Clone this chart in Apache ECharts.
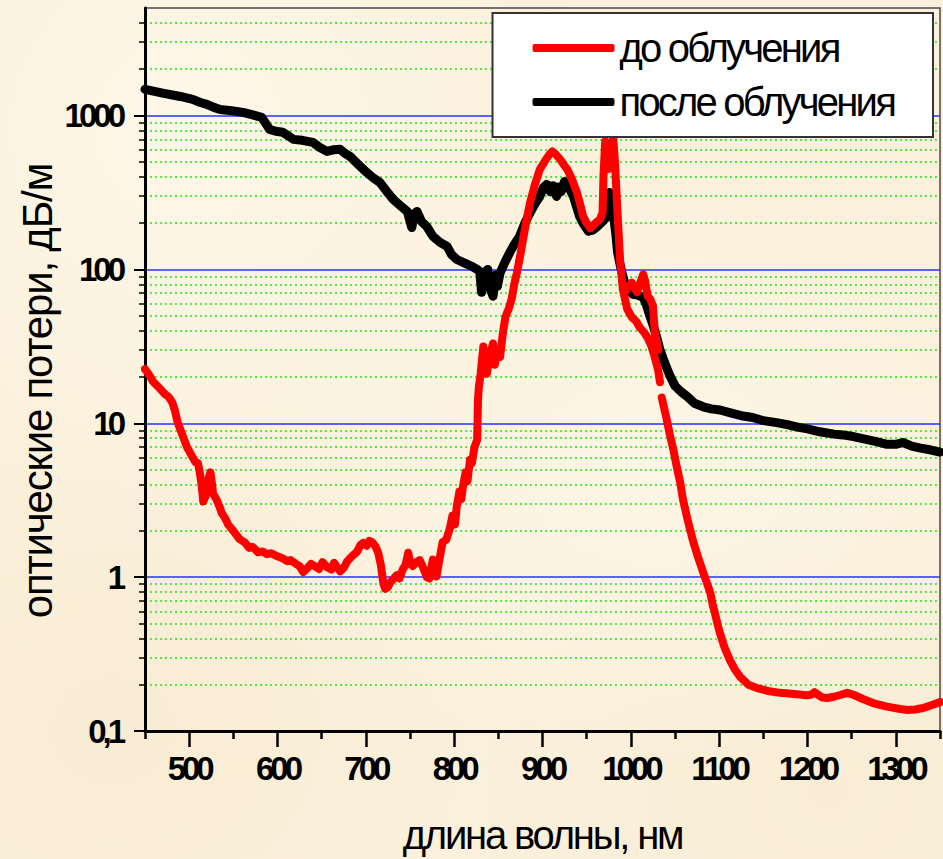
<!DOCTYPE html>
<html>
<head>
<meta charset="utf-8">
<script src="https://cdn.jsdelivr.net/npm/echarts@6/dist/echarts.min.js"></script>
<style>
  html, body { margin: 0; padding: 0; }
  body {
    width: 943px; height: 859px; overflow: hidden;
    background-color: #fbf0db;
    background-image:
      radial-gradient(ellipse at 20% 15%, rgba(255,252,240,0.6), rgba(255,252,240,0) 40%),
      radial-gradient(ellipse at 70% 55%, rgba(255,250,238,0.55), rgba(255,250,238,0) 45%),
      radial-gradient(ellipse at 12% 85%, rgba(246,232,204,0.5), rgba(246,232,204,0) 30%),
      radial-gradient(ellipse at 88% 92%, rgba(246,233,206,0.5), rgba(246,233,206,0) 30%);
  }
  #chart { width: 943px; height: 859px; }
</style>
</head>
<body>
<div id="chart"></div>
<script>
// Optical loss spectra of the fibre before and after irradiation
const FONT = "'Liberation Sans', Arial, sans-serif";
const X_TITLE = 'длина волны, нм';
const Y_TITLE = 'оптические потери, дБ/м';
const NAME_BEFORE = 'до облучения';
const NAME_AFTER = 'после облучения';

// "до облучения" (before irradiation); null marks a break in the trace
const redNm = [450,455,459,466,473,477,481,484,487,492,498,502,507,510,512,514,516,519,521,524,526,527,531,534,537,541,544,550,557,563,568,572,578,583,588,593,599,605,611,615,620,625,629,634,638,642,647,651,656,661,664,668,671,675,679,684,690,694,697,701,704,707,711,714,717,720,722,725,728,731,735,738,742,745,748,750,753,757,761,765,769,772,774,776,778,780,784,787,791,795,798,801,803,806,808,810,813,815,818,820,823,826,827,828,830,833,835,837,840,844,846,848,852,855,858,862,865,868,871,875,878,882,886,891,897,904,908,911,915,920,924,928,933,939,943,946,950,954,958,962,965,968,969,971,973,975,977,979,980,982,984,986,988,991,996,1001,1006,1010,1015,1019,1023,1027,1031,1033,
  null,
  1035,1040,1044,1048,1052,1056,1059,1064,1070,1076,1082,1086,1090,1093,1095,1098,1101,1106,1112,1118,1124,1133,1143,1155,1169,1185,1199,1204,1208,1212,1217,1222,1230,1238,1245,1252,1262,1274,1290,1305,1313,1322,1331,1340,1350,
  null,
  991,993,997,1001,1004,1007,1010,1014,1016,1019,1022,1025,1027,1031];
const redLoss = [22.5,20.5,18.7,17,15.4,14.8,13.6,12,10.1,8.5,6.9,6.3,5.6,5.5,4.8,4.0,3.1,3.4,4.2,4.8,4.0,3.5,3.2,2.9,2.6,2.4,2.2,2.0,1.77,1.68,1.55,1.57,1.45,1.47,1.41,1.43,1.37,1.33,1.27,1.29,1.23,1.18,1.08,1.15,1.22,1.18,1.13,1.25,1.16,1.12,1.24,1.15,1.09,1.15,1.27,1.36,1.46,1.62,1.67,1.60,1.72,1.69,1.58,1.44,1.2,0.9,0.84,0.86,0.93,0.97,1.03,0.98,1.13,1.2,1.44,1.25,1.18,1.25,1.29,1.15,1.0,0.98,1.14,1.30,1.12,1.01,1.37,1.69,1.75,2.06,2.5,2.2,2.9,3.6,3.2,3.9,4.8,4.2,5.8,5.5,7.0,7.8,14.3,17.3,21,31.5,26,21,27,33,24,28,27,38,49,56,64,80,95,125,157,210,272,350,447,520,560,585,560,519,480,447,390,316,260,221,200,185,195,205,211,234,400,680,600,450,468,650,720,500,298,180,111,74,55,49,46,42,39,36,32,27,22,18.5,
  null,
  14.7,11,8.5,6.8,5.2,4.1,3.2,2.4,1.75,1.35,1.07,0.92,0.79,0.65,0.59,0.5,0.43,0.35,0.29,0.25,0.224,0.20,0.19,0.182,0.177,0.174,0.171,0.172,0.179,0.172,0.165,0.164,0.167,0.172,0.177,0.172,0.162,0.152,0.144,0.139,0.137,0.138,0.141,0.147,0.154,
  null,
  74,71,77,82,76,71,80,93,85,67,64,58,40,30];

// "после облучения" (after irradiation)
const blackNm = [450,470,490,504,512,520,528,535,548,561,572,582,586,591,598,606,612,618,628,640,648,656,664,671,676,682,690,701,708,716,724,731,739,747,752,755,758,763,769,776,784,792,797,803,812,821,826,829,831,834,838,841,844,847,849,852,857,863,868,874,880,886,892,897,901,905,909,912,916,918,921,925,930,935,942,947,952,957,962,968,973,976,978,980,983,985,989,993,997,1002,1008,1014,1018,1022,1026,1030,1033,1038,1044,1050,1057,1064,1072,1082,1091,1101,1115,1125,1138,1150,1165,1177,1190,1200,1214,1230,1240,1252,1265,1278,1290,1300,1308,1318,1328,1340,1350];
const blackLoss = [1480,1400,1330,1273,1220,1183,1130,1096,1075,1049,1010,973,900,813,790,778,740,700,690,669,620,585,600,603,570,543,490,427,395,367,320,285,260,238,187,230,238,205,190,164,150,141,125,116,110,104,100,97,71,95,100,75,67,92,78,95,110,129,145,164,200,234,270,298,340,357,320,350,298,343,320,373,340,298,221,195,177,180,190,205,221,316,290,234,170,129,100,82,75,69,68,66,58,49,42,35,30,25,20.5,17.5,16,14.9,13.5,12.8,12.4,12.2,11.6,11.2,10.9,10.4,10.1,9.8,9.4,9.2,8.8,8.5,8.4,8.2,7.9,7.6,7.3,7.3,7.5,7.1,6.9,6.7,6.5];

// axis ticks
const xMajorTicks = [500,600,700,800,900,1000,1100,1200,1300];
const xMinorTicks = [450,550,650,750,850,950,1050,1150,1250,1350];
const yMajorTicks = [0.1,1,10,100,1000];
const yMinorTicks = [0.2,0.3,0.4,0.5,0.6,0.7,0.8,0.9,2,3,4,5,6,7,8,9,20,30,40,50,60,70,80,90,200,300,400,500,600,700,800,900,2000,3000,4000];

const pairs = (xs, ys) => xs.map((x, i) => (x === null || ys[i] === null) ? [null, null] : [x, ys[i]]);

const X_MIN = 450, X_MAX = 1350, Y_MIN = 0.1, Y_MAX = 5000;

const chart = echarts.init(document.getElementById('chart'), null, { renderer: 'svg' });

chart.setOption({
  backgroundColor: 'transparent',
  animation: false,
  grid: {
    left: 145, right: 3, top: 8, bottom: 128,
    outerBoundsMode: 'none',
    containLabel: false,
    show: true, borderColor: '#4a4a4a', borderWidth: 1.5,
    backgroundColor: 'transparent'
  },
  legend: {
    orient: 'vertical',
    right: 10, top: 13,
    backgroundColor: '#ffffff',
    borderColor: '#333333', borderWidth: 2,
    padding: [15, -3, 15, 40],
    itemWidth: 82, itemHeight: 8, itemGap: 14,
    icon: 'roundRect',
    data: [NAME_BEFORE, NAME_AFTER],
    textStyle: { fontFamily: FONT, fontSize: 40, lineHeight: 40, color: '#000' }
  },
  xAxis: [
    {
      type: 'value', min: X_MIN, max: X_MAX,
      name: X_TITLE, nameLocation: 'middle', nameGap: 84, nameMoveOverlap: false,
      nameTextStyle: { fontFamily: FONT, fontSize: 40, color: '#000' },
      axisLine: { show: true, onZero: false, lineStyle: { color: '#000', width: 3 } },
      axisTick: { show: true, customValues: xMajorTicks, length: 16, lineStyle: { color: '#000', width: 2.5 } },
      axisLabel: {
        customValues: xMajorTicks, margin: 21,
        fontFamily: FONT, fontWeight: 'bold', fontSize: 33, color: '#000',
        formatter: v => String(v)
      },
      splitLine: { show: false }
    },
    {
      type: 'value', min: X_MIN, max: X_MAX, position: 'bottom',
      axisLine: { show: false },
      axisTick: { show: true, customValues: xMinorTicks, length: 8, lineStyle: { color: '#000', width: 2.5 } },
      axisLabel: { show: false },
      splitLine: { show: false }
    }
  ],
  yAxis: [
    {
      type: 'log', logBase: 10, min: Y_MIN, max: Y_MAX, position: 'left',
      name: Y_TITLE, nameLocation: 'middle', nameGap: 87, nameMoveOverlap: false,
      nameTextStyle: { fontFamily: FONT, fontSize: 42, color: '#000', padding: [0, 43, 0, 0] },
      axisLine: { show: true, onZero: false, lineStyle: { color: '#000', width: 3 } },
      axisTick: { show: true, customValues: yMajorTicks, length: 11, lineStyle: { color: '#000', width: 2 } },
      axisLabel: {
        customValues: yMajorTicks, margin: 23,
        fontFamily: FONT, fontWeight: 'bold', fontSize: 33, color: '#000',
        formatter: v => String(v).replace('.', ',')
      },
      splitLine: { show: true, lineStyle: { color: '#2233ff', width: 1.5 } }
    },
    {
      type: 'log', logBase: 10, min: Y_MIN, max: Y_MAX, position: 'left',
      axisLine: { show: false },
      axisTick: { show: true, customValues: yMinorTicks, length: 6, lineStyle: { color: '#000', width: 1.5 } },
      axisLabel: { show: false },
      splitLine: { show: true, lineStyle: { color: '#18e818', width: 1.5, type: [2, 3] } }
    }
  ],
  series: [
    {
      name: NAME_AFTER, type: 'line', xAxisIndex: 0, yAxisIndex: 0,
      data: pairs(blackNm, blackLoss), showSymbol: false, symbol: 'none',
      connectNulls: false,
      lineStyle: { color: '#000', width: 9, cap: 'round', join: 'round' },
      itemStyle: { color: '#000' }
    },
    {
      name: NAME_BEFORE, type: 'line', xAxisIndex: 0, yAxisIndex: 0,
      data: pairs(redNm, redLoss), showSymbol: false, symbol: 'none',
      connectNulls: false,
      lineStyle: { color: '#ff0000', width: 8, cap: 'round', join: 'round' },
      itemStyle: { color: '#ff0000' }
    }
  ]
});

// tighten the tracking of the lettering
function tightenText() {
  document.querySelectorAll('#chart svg text').forEach(t => {
    const s = t.textContent;
    let ls = null;
    if (/^[\d,]+$/.test(s)) ls = '-4px';
    else if (s === X_TITLE) ls = '-2.2px';
    else if (s === Y_TITLE) ls = '-1.2px';
    else if (s === NAME_BEFORE || s === NAME_AFTER) ls = '-2.8px';
    if (ls) t.style.letterSpacing = ls;
  });
}
tightenText();
chart.on('finished', tightenText);
</script>
</body>
</html>
